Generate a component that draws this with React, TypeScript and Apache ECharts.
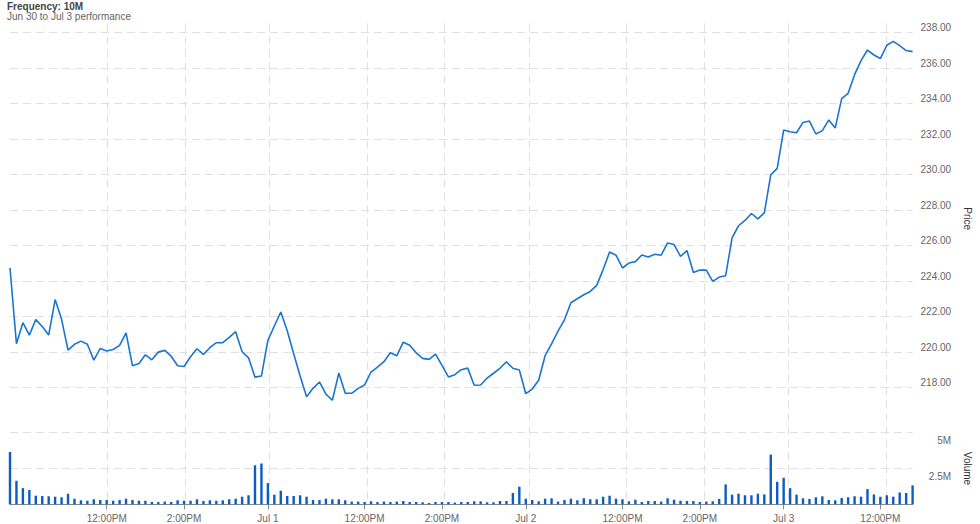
import React, { useEffect, useRef } from "react";
import * as echarts from "echarts";

const DAYS = ["Jun 30", "Jul 1", "Jul 2", "Jul 3"];
const BARS_PER_DAY = [40, 40, 40, 21];
const SESSION_START_MIN = 9 * 60 + 30;
const STEP_MIN = 10;

const PRICE = [
  224.72, 220.45, 221.64, 220.94, 221.81, 221.42, 220.94, 222.94, 221.83, 220.09,
  220.42, 220.6, 220.42, 219.53, 220.19, 220.04, 220.13, 220.36, 221.06, 219.21,
  219.34, 219.83, 219.55, 219.98, 220.08, 219.75, 219.21, 219.17, 219.72, 220.17,
  219.85, 220.23, 220.51, 220.51, 220.81, 221.13, 220.0, 219.66, 218.57, 218.64,
  220.64, 221.45, 222.24, 221.18, 219.89, 218.64, 217.46, 217.94, 218.3, 217.61,
  217.27, 218.8, 217.66, 217.66, 217.94, 218.13, 218.86, 219.14, 219.44, 219.94,
  219.78, 220.54, 220.37, 219.94, 219.63, 219.57, 219.87, 219.23, 218.58, 218.71,
  218.99, 219.08, 218.11, 218.13, 218.52, 218.79, 219.07, 219.44, 219.07, 218.97,
  217.64, 217.9, 218.4, 219.78, 220.44, 221.16, 221.8, 222.76, 222.99, 223.21,
  223.4, 223.74, 224.63, 225.62, 225.44, 224.72, 225.0, 225.08, 225.45, 225.34,
  225.49, 225.44, 226.13, 226.04, 225.38, 225.7, 224.47, 224.61, 224.6, 223.97,
  224.21, 224.28, 226.42, 227.1, 227.4, 227.79, 227.49, 227.83, 229.97, 230.33,
  232.49, 232.4, 232.34, 232.92, 233.0, 232.27, 232.46, 233.06, 232.61, 234.26,
  234.56, 235.61, 236.4, 237.0, 236.72, 236.52, 237.27, 237.49, 237.25, 236.97,
  236.91,
];

// volume in millions of shares
const VOLUME_M = [
  3.66, 1.64, 1.13, 1.0, 0.6, 0.58, 0.56, 0.53, 0.49, 0.74,
  0.39, 0.28, 0.25, 0.35, 0.3, 0.3, 0.25, 0.3, 0.39, 0.3,
  0.25, 0.25, 0.16, 0.16, 0.19, 0.16, 0.28, 0.25, 0.25, 0.35,
  0.23, 0.28, 0.25, 0.28, 0.35, 0.39, 0.53, 0.63, 2.73, 2.85,
  1.48, 0.67, 0.95, 0.58, 0.58, 0.63, 0.53, 0.3, 0.3, 0.39,
  0.35, 0.35, 0.28, 0.19, 0.19, 0.16, 0.21, 0.16, 0.19, 0.16,
  0.19, 0.23, 0.16, 0.16, 0.14, 0.09, 0.16, 0.16, 0.16, 0.12,
  0.16, 0.16, 0.21, 0.21, 0.14, 0.14, 0.23, 0.23, 0.79, 1.23,
  0.39, 0.3, 0.21, 0.39, 0.42, 0.19, 0.3, 0.39, 0.28, 0.42,
  0.35, 0.35, 0.53, 0.6, 0.39, 0.35, 0.21, 0.32, 0.16, 0.23,
  0.23, 0.19, 0.42, 0.32, 0.25, 0.23, 0.23, 0.16, 0.19, 0.21,
  0.37, 1.39, 0.67, 0.74, 0.63, 0.63, 0.74, 0.69, 3.47, 1.57,
  1.85, 1.13, 0.67, 0.42, 0.37, 0.49, 0.56, 0.3, 0.28, 0.44,
  0.49, 0.56, 0.53, 1.06, 0.69, 0.53, 0.63, 0.53, 0.83, 0.79,
  1.32,
];

const TIME_LABELS: Record<string, string> = { "12:00": "12:00PM", "14:00": "2:00PM" };

const pad = (n: number) => (n < 10 ? "0" + n : "" + n);
const CATEGORIES: string[] = [];
DAYS.forEach((d, di) => {
  for (let k = 0; k < BARS_PER_DAY[di]; k++) {
    const m = SESSION_START_MIN + k * STEP_MIN;
    CATEGORIES.push(d + "|" + pad(Math.floor(m / 60)) + ":" + pad(m % 60));
  }
});

const isMarked = (index: number, value: string) => {
  if (index === 0) return false;
  const t = String(value).split("|")[1];
  return t === "09:30" || t === "12:00" || t === "14:00";
};
const labelOf = (value: string) => {
  const [d, t] = String(value).split("|");
  if (t === "09:30") return d;
  return TIME_LABELS[t] || "";
};

const FONT = "'Liberation Sans', Arial, Helvetica, sans-serif";
const GRID_LEFT = 10;
const GRID_RIGHT = 61.8;
const GRID_LINE = { color: "#e0e0e0", width: 1, type: [8, 5] as number[] };

export default function App() {
  const ref = useRef<HTMLDivElement>(null);
  useEffect(() => {
    if (!ref.current) return;
    const chart = echarts.init(ref.current, undefined, { renderer: "svg" });
    chart.setOption({
      animation: false,
      textStyle: { fontFamily: FONT },
      title: {
        text: "Frequency: 10M",
        subtext: "Jun 30 to Jul 3 performance",
        left: 7,
        top: 1,
        padding: 0,
        itemGap: -1,
        textStyle: { fontSize: 10, fontWeight: "bold", color: "#444", lineHeight: 11, fontFamily: FONT },
        subtextStyle: { fontSize: 10, color: "#666", lineHeight: 11, fontFamily: FONT },
      },
      grid: [
        { left: GRID_LEFT, right: GRID_RIGHT, top: 23.4, height: 480.9 },
        { left: GRID_LEFT, right: GRID_RIGHT, top: 23.4, height: 390.5 },
        { left: GRID_LEFT, right: GRID_RIGHT, top: 432.7, height: 71.6 },
      ],
      xAxis: [
        {
          type: "category",
          gridIndex: 0,
          data: CATEGORIES,
          boundaryGap: false,
          axisLine: { show: false },
          axisTick: { show: false },
          axisLabel: { show: false },
          splitLine: { show: true, interval: isMarked, lineStyle: GRID_LINE },
        },
        {
          type: "category",
          gridIndex: 1,
          data: CATEGORIES,
          boundaryGap: false,
          axisLine: { show: false },
          axisTick: { show: false },
          axisLabel: { show: false },
          splitLine: { show: false },
        },
        {
          type: "category",
          gridIndex: 2,
          data: CATEGORIES,
          boundaryGap: false,
          axisLine: { show: true, lineStyle: { color: "#888", width: 1 } },
          axisTick: { show: true, interval: isMarked, length: 5, lineStyle: { color: "#888" } },
          axisLabel: {
            show: true,
            interval: isMarked,
            formatter: labelOf,
            color: "#666",
            fontSize: 10,
            margin: 9,
            fontFamily: FONT,
          },
          splitLine: { show: false },
        },
      ],
      yAxis: [
        {
          type: "value",
          gridIndex: 0,
          show: false,
          min: 0,
          max: 1,
          splitLine: { show: false },
        },
        {
          type: "value",
          gridIndex: 1,
          position: "right",
          min: 216.5,
          max: 238.5,
          splitNumber: 11,
          scale: true,
          name: "Price",
          nameLocation: "middle",
          nameRotate: -90,
          nameGap: 43,
          nameTextStyle: { color: "#333", fontSize: 10, fontFamily: FONT },
          axisLine: { show: false },
          axisTick: { show: false },
          axisLabel: {
            showMinLabel: false,
            showMaxLabel: false,
            align: "right",
            verticalAlign: "bottom",
            lineHeight: 9,
            margin: 38.5,
            color: "#666",
            fontSize: 10,
            fontFamily: FONT,
            formatter: (v: number) => v.toFixed(2),
          },
          splitLine: { show: true, showMinLine: false, showMaxLine: false, lineStyle: GRID_LINE },
        },
        {
          type: "value",
          gridIndex: 2,
          position: "right",
          min: 0,
          max: 5,
          interval: 2.5,
          name: "Volume",
          nameLocation: "middle",
          nameRotate: -90,
          nameGap: 42,
          nameTextStyle: { color: "#333", fontSize: 10, fontFamily: FONT },
          axisLine: { show: false },
          axisTick: { show: false },
          axisLabel: {
            showMinLabel: false,
            align: "right",
            verticalAlign: "top",
            lineHeight: 15,
            margin: 38.5,
            color: "#666",
            fontSize: 10,
            fontFamily: FONT,
            formatter: (v: number) => v + "M",
          },
          splitLine: { show: true, showMinLine: false, lineStyle: GRID_LINE },
        },
      ],
      series: [
        {
          type: "line",
          name: "Price",
          xAxisIndex: 1,
          yAxisIndex: 1,
          data: PRICE,
          showSymbol: false,
          symbol: "none",
          lineStyle: { color: "#1a75d2", width: 1.6 },
          itemStyle: { color: "#1a75d2" },
        },
        {
          type: "bar",
          name: "Volume",
          xAxisIndex: 2,
          yAxisIndex: 2,
          data: VOLUME_M,
          barWidth: 2.4,
          itemStyle: { color: "#0b5cc4" },
        },
      ],
    });
    return () => chart.dispose();
  }, []);
  return (
    <div
      ref={ref}
      style={{ position: "fixed", left: 0, top: 0, width: 980, height: 524, background: "#fff" }}
    />
  );
}
